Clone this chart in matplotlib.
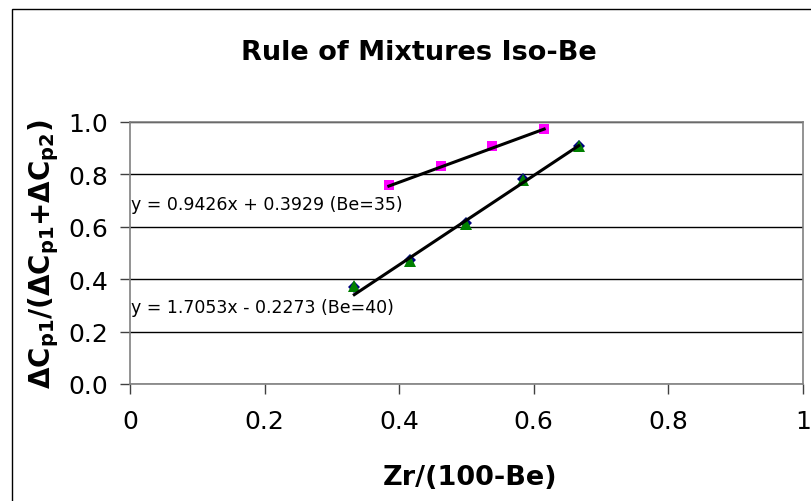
import matplotlib.pyplot as plt
import matplotlib.patches as patches
import numpy as np

plt.rcParams['font.family'] = ['DejaVu Sans']
plt.rcParams['mathtext.fontset'] = 'dejavusans'

# Be=35 series
x35 = [0.3846, 0.4615, 0.5385, 0.6154]
y35 = [0.760, 0.833, 0.910, 0.973]
fit35 = (0.9426, 0.3929)

# Be=40 series (blue diamonds under green triangles)
x40 = [0.3333, 0.4167, 0.5000, 0.5833, 0.6667]
y40_diamond = [0.372, 0.474, 0.614, 0.782, 0.910]
y40_triangle = [0.375, 0.471, 0.611, 0.780, 0.907]
fit40 = (1.7053, -0.2273)

labels = ['y = 0.9426x + 0.3929 (Be=35)', 'y = 1.7053x - 0.2273 (Be=40)']

fig = plt.figure(figsize=(8.12, 5.02), dpi=100)
ax = fig.add_axes([130 / 812, 117 / 502, 673 / 812, 262 / 502])

# outer chart frame
fig.patches.append(patches.Rectangle((12 / 812, -0.1), 1.2, 1.0 - 10 / 502 + 0.1,
                                     transform=fig.transFigure, fill=False,
                                     edgecolor='black', linewidth=1.0))

ax.set_xlim(0, 1)
ax.set_ylim(0, 1)
ax.set_xticks([0, 0.2, 0.4, 0.6, 0.8, 1.0])
ax.set_xticklabels(['0', '0.2', '0.4', '0.6', '0.8', '1'])
ax.set_yticks([0, 0.2, 0.4, 0.6, 0.8, 1.0])
ax.set_yticklabels(['0.0', '0.2', '0.4', '0.6', '0.8', '1.0'])
ax.tick_params(axis='both', direction='out', length=7, width=1, color='#404040',
               labelsize=18)
ax.tick_params(axis='x', pad=11)
ax.tick_params(axis='y', pad=9)
ax.grid(axis='y', color='black', linewidth=1.0)
ax.set_axisbelow(True)
for s in ['left', 'bottom', 'right', 'top']:
    ax.spines[s].set_color('#808080')
    ax.spines[s].set_linewidth(1.2)

# trendlines
xs = np.array([min(x35), max(x35)])
ax.plot(xs, fit35[0] * xs + fit35[1], color='black', linewidth=2.2, zorder=3)
xs = np.array([min(x40), max(x40)])
ax.plot(xs, fit40[0] * xs + fit40[1], color='black', linewidth=2.2, zorder=3)

ax.plot(x35, y35, 's', color='#ff00ff', markersize=6.5, markeredgewidth=0, zorder=2)
ax.plot(x40, y40_diamond, 'D', color='#000080', markersize=6, markeredgewidth=0, zorder=2)
ax.plot(x40, y40_triangle, '^', color='#008000', markersize=8.5, markeredgewidth=0, zorder=2.5)

ax.text(0.002, 0.687, labels[0], fontsize=12.5, va='center', ha='left', zorder=4)
ax.text(0.002, 0.294, labels[1], fontsize=12.5, va='center', ha='left', zorder=4)

fig.text(419 / 812, 1 - 53 / 502, 'Rule of Mixtures Iso-Be', fontsize=19.5,
         fontweight='bold', ha='center', va='center')
fig.text(470 / 812, 1 - 478 / 502, 'Zr/(100-Be)', fontsize=19.5,
         fontweight='bold', ha='center', va='center')
fig.text(44 / 812, 1 - 254 / 502,
         r'$\mathbf{\Delta C_{p1}/(\Delta C_{p1}{+}\Delta C_{p2})}$',
         fontsize=20, rotation=90, ha='center', va='center')

fig.savefig('out.png', dpi=100)
